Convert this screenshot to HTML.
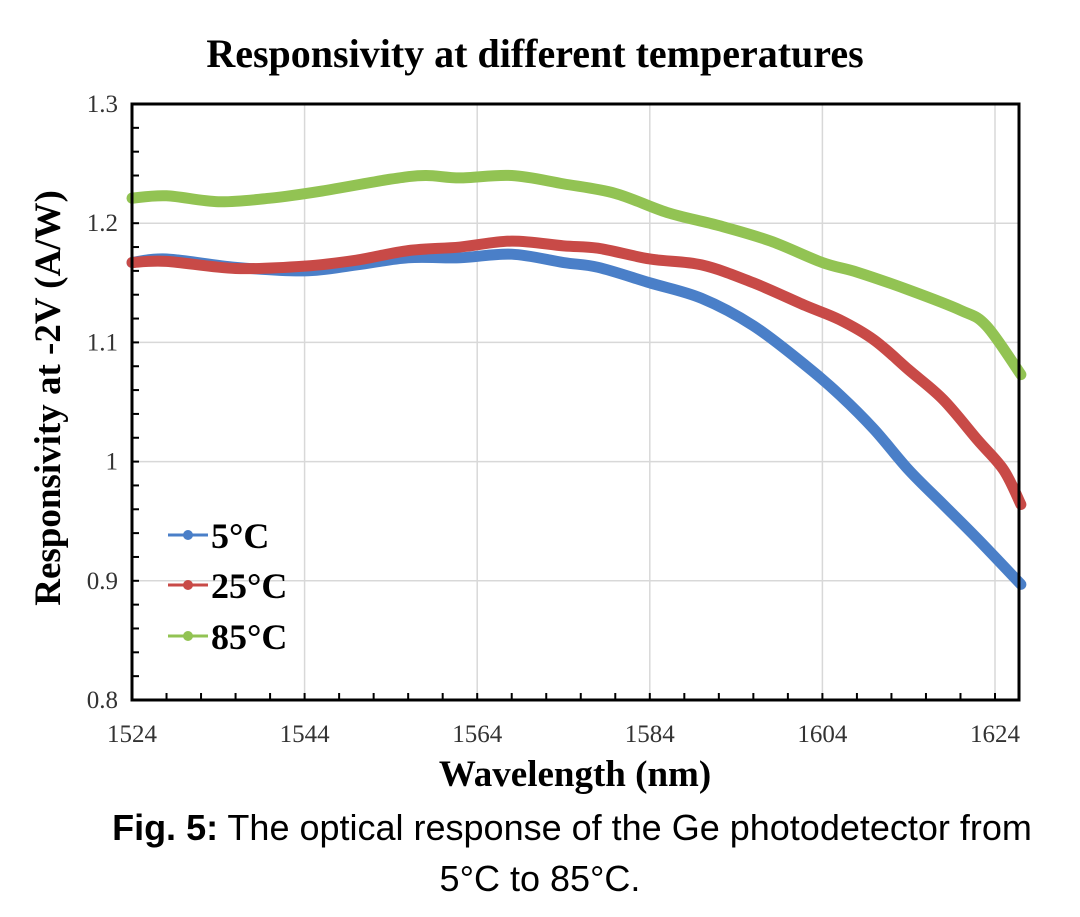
<!DOCTYPE html>
<html><head><meta charset="utf-8"><style>
body{margin:0;background:#fff;width:1080px;height:912px;overflow:hidden}
svg text{font-family:"Liberation Serif",serif}
</style></head><body>
<svg id="chart" width="1080" height="912">
<text x="535" y="67" text-anchor="middle" font-size="40" font-weight="bold">Responsivity at different temperatures</text>
<g id="grid"></g><g id="ticks"></g><g id="series"></g>
<rect x="132" y="104" width="887" height="596" fill="none" stroke="#000" stroke-width="3"/>
<text transform="translate(60,398) rotate(-90)" text-anchor="middle" font-size="37" font-weight="bold">Responsivity at -2V (A/W)</text>
<text x="575" y="786" text-anchor="middle" font-size="37" font-weight="bold">Wavelength (nm)</text>
<g>
<line x1="168" y1="535" x2="208" y2="535" stroke="#4a7fc8" stroke-width="3"/><circle cx="188" cy="535" r="5" fill="#4a7fc8"/>
<text x="211" y="548" font-size="36" font-weight="bold">5°C</text>
<line x1="168" y1="585" x2="208" y2="585" stroke="#c84a47" stroke-width="3"/><circle cx="188" cy="585" r="5" fill="#c84a47"/>
<text x="211" y="598" font-size="36" font-weight="bold">25°C</text>
<line x1="168" y1="636" x2="208" y2="636" stroke="#92c353" stroke-width="3"/><circle cx="188" cy="636" r="5" fill="#92c353"/>
<text x="211" y="649" font-size="36" font-weight="bold">85°C</text>
</g>
<text x="572" y="840" text-anchor="middle" font-size="36" style="font-family:'Liberation Sans',sans-serif"><tspan font-weight="bold">Fig. 5:</tspan> The optical response of the Ge photodetector from</text>
<text x="540" y="891" text-anchor="middle" font-size="36" style="font-family:'Liberation Sans',sans-serif">5°C to 85°C.</text>
</svg>
<script>
const wl5 = [1524,1528,1536,1544,1550,1556,1562,1568,1574,1578,1584,1590,1596,1602,1606,1610,1614,1618,1622,1627];
const r5 = [1.167,1.170,1.163,1.160,1.165,1.171,1.171,1.174,1.167,1.163,1.150,1.137,1.114,1.081,1.056,1.027,0.993,0.964,0.935,0.897];
const wl25 = [1524,1528,1536,1544,1550,1556,1562,1568,1574,1578,1584,1590,1596,1602,1606,1610,1614,1618,1622,1625,1627];
const r25 = [1.167,1.168,1.162,1.164,1.169,1.177,1.180,1.185,1.181,1.179,1.170,1.165,1.150,1.131,1.119,1.102,1.077,1.052,1.018,0.993,0.964];
const wl85 = [1524,1528,1534,1540,1546,1554,1558,1562,1568,1574,1580,1586,1592,1598,1604,1608,1614,1620,1623,1627];
const r85 = [1.221,1.223,1.218,1.221,1.227,1.237,1.240,1.238,1.240,1.233,1.225,1.209,1.198,1.185,1.167,1.159,1.144,1.127,1.114,1.073];
const xTicks = [1524,1544,1564,1584,1604,1624];
const yTicks = [0.8,0.9,1,1.1,1.2,1.3];
const yLabels = ["0.8","0.9","1","1.1","1.2","1.3"];
const X = v => 132 + (v - 1524) * 8.63;
const Y = v => 104 + (1.3 - v) * 1192;
const NS = "http://www.w3.org/2000/svg";
function mk(tag, parent, attrs){const e=document.createElementNS(NS,tag);for(const k in attrs)e.setAttribute(k,attrs[k]);parent.appendChild(e);return e;}
const grid=document.getElementById('grid'), ticks=document.getElementById('ticks'), ser=document.getElementById('series');
xTicks.forEach(t=>{
  if(t>1524){const l=mk('line',grid,{x1:X(t),x2:X(t),y1:104,y2:700,stroke:'#d8d8d8','stroke-width':1.5});
  
  }
  const tx=mk('text',ticks,{x:X(t),y:742,'text-anchor':'middle','font-size':25,fill:'#333'});tx.textContent=t;
  
  
});
for(let t=1524;t<=1627;t+=4){mk('line',ticks,{x1:X(t),x2:X(t),y1:700,y2:693,stroke:'#000','stroke-width':2});}
yTicks.forEach((t,i)=>{
  if(t>0.8&&t<1.3){const l=mk('line',grid,{x1:132,x2:1019,y1:Y(t),y2:Y(t),stroke:'#d8d8d8','stroke-width':1.5});
  
  }
  const tx=mk('text',ticks,{x:118,y:Y(t)+8,'text-anchor':'end','font-size':25,fill:'#333'});tx.textContent=yLabels[i];
  
  
});
for(let i=0;i<=25;i++){const v=0.8+i*0.02;mk('line',ticks,{x1:132,x2:139,y1:Y(v),y2:Y(v),stroke:'#000','stroke-width':2});}
function path(xs,ys){let d='';const p=xs.map((x,i)=>[X(x),Y(ys[i])]);
  d='M'+p[0][0]+','+p[0][1];
  for(let i=0;i<p.length-1;i++){const p0=p[Math.max(0,i-1)],p1=p[i],p2=p[i+1],p3=p[Math.min(p.length-1,i+2)];
    d+=` C${p1[0]+(p2[0]-p0[0])/6},${p1[1]+(p2[1]-p0[1])/6} ${p2[0]-(p3[0]-p1[0])/6},${p2[1]-(p3[1]-p1[1])/6} ${p2[0]},${p2[1]}`;}
  return d;}
const s85=mk('path',ser,{d:path(wl85,r85),fill:'none',stroke:'#92c353','stroke-width':11,'stroke-linecap':'round'});


const s5=mk('path',ser,{d:path(wl5,r5),fill:'none',stroke:'#4a7fc8','stroke-width':11,'stroke-linecap':'round'});


const s25=mk('path',ser,{d:path(wl25,r25),fill:'none',stroke:'#c84a47','stroke-width':11,'stroke-linecap':'round'});


</script>
</body></html>
